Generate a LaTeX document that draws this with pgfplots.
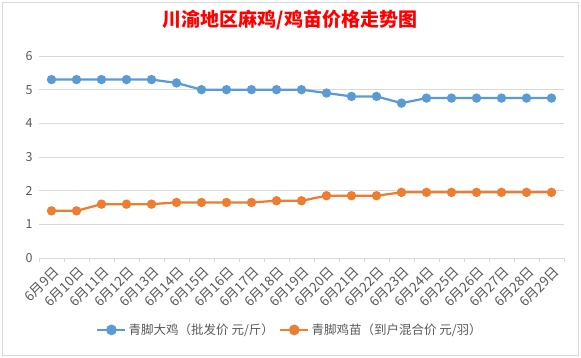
\documentclass[border=0pt]{standalone}
\usepackage{fontspec}
\setmainfont{Noto Sans CJK SC}
\usepackage{pgfplots}
\pgfplotsset{compat=1.18}
\definecolor{sblue}{HTML}{5B9BD5}
\definecolor{sorange}{HTML}{ED7D31}
\definecolor{tickgray}{HTML}{595959}
\definecolor{gridgray}{HTML}{D9D9D9}
\begin{document}
\begin{tikzpicture}
\useasboundingbox (-39pt,-100pt) rectangle (542pt,258pt);
\draw[gridgray, line width=0.8pt] (-36.5pt,-97pt) rectangle (539pt,255.5pt);
\begin{axis}[
  at={(0pt,0pt)}, anchor=south west,
  scale only axis, width=525pt, height=202pt,
  xmin=-0.5, xmax=20.5, ymin=0, ymax=6,
  ytick={0,1,2,3,4,5,6},
  xtick={0,...,20},
  xticklabels={6月9日,6月10日,6月11日,6月12日,6月13日,6月14日,6月15日,6月16日,6月17日,6月18日,6月19日,6月20日,6月21日,6月22日,6月23日,6月24日,6月25日,6月26日,6月27日,6月28日,6月29日},
  minor xtick={-0.5,0.5,...,20.5},
  tick align=outside,
  major tick length=0pt,
  minor tick length=4pt,
  minor tick style={gridgray, line width=0.8pt},
  ytick style={draw=none},
  axis x line*=bottom, axis y line*=left,
  x axis line style={gridgray, line width=0.8pt, -},
  y axis line style={draw=none},
  ymajorgrids, grid style={gridgray, line width=0.8pt},
  /pgf/number format/assume math mode=true,
  yticklabel style={tickgray, font=\fontsize{12.5}{14}\selectfont, xshift=-3pt},
  xticklabel style={xshift=8pt, yshift=-9pt, rotate=45, anchor=east, tickgray, font=\fontsize{13.5}{15}\selectfont},
  legend style={at={(0.478,-0.356)}, anchor=center, draw=none, fill=none,
    font=\fontsize{12.5}{14}\selectfont, text=tickgray,
    /tikz/every even column/.append style={column sep=3pt}},
  legend columns=2,
  legend image code/.code={\draw[#1, line width=2.6pt, mark size=4pt, mark repeat=2, mark phase=2] plot coordinates {(0pt,0pt) (14pt,0pt) (28pt,0pt)};},
]
\addplot[sblue, line width=2.25pt, mark=*, mark size=3.5pt, mark options={fill=sblue, draw=sblue}] coordinates {
(0,5.3) (1,5.3) (2,5.3) (3,5.3) (4,5.3) (5,5.2) (6,5.0) (7,5.0) (8,5.0) (9,5.0) (10,5.0)
(11,4.9) (12,4.8) (13,4.8) (14,4.6) (15,4.75) (16,4.75) (17,4.75) (18,4.75) (19,4.75) (20,4.75)};
\addlegendentry{青脚大鸡（批发价 元/斤）}
\addplot[sorange, line width=2.25pt, mark=*, mark size=3.5pt, mark options={fill=sorange, draw=sorange}] coordinates {
(0,1.4) (1,1.4) (2,1.6) (3,1.6) (4,1.6) (5,1.65) (6,1.65) (7,1.65) (8,1.65) (9,1.7) (10,1.7)
(11,1.85) (12,1.85) (13,1.85) (14,1.95) (15,1.95) (16,1.95) (17,1.95) (18,1.95) (19,1.95) (20,1.95)};
\addlegendentry{青脚鸡苗（到户混合价 元/羽）}
\end{axis}
\node[red, font=\fontsize{19}{22}\selectfont\bfseries] at (251pt,238pt) {川渝地区麻鸡/鸡苗价格走势图};
\end{tikzpicture}
\end{document}
